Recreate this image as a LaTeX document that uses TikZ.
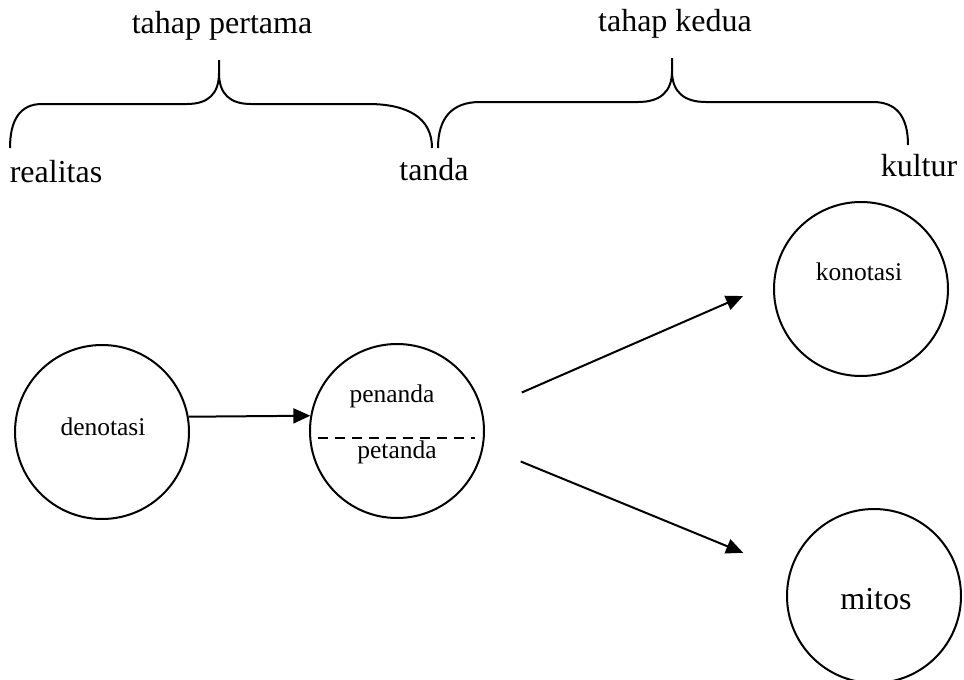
\documentclass[tikz,border=0pt]{standalone}
\usepackage{fontspec}
\setmainfont{Liberation Serif}
\usetikzlibrary{arrows.meta}
\begin{document}
\begin{tikzpicture}[x=0.5pt, y=-0.5pt, line width=1pt,
  bulat/.style={circle, draw, minimum size=87pt, inner sep=0pt},
  judul/.style={font=\fontsize{16}{18}\selectfont, anchor=base, inner sep=0pt},
  isi/.style={font=\fontsize{12.75}{15}\selectfont, anchor=base, inner sep=0pt},
  panah/.style={-{Triangle[length=8.5pt, width=7.5pt]}}]
\useasboundingbox (0,0) rectangle (964,680);
\node[judul] (thp1) at (222,33){tahap pertama};
\node[judul] (thp2) at (675,32){tahap kedua};
\node[judul] (real) at (56,182){realitas};
\node[judul] (tanda) at (434,180){tanda};
\node[judul] (kult) at (919,176){kultur};
\draw[] (10,148) .. controls (10,120) and (20,104) .. (42,104) -- (187,104)
  .. controls (208,104) and (219,94) .. (219,73) -- (219,60)
  (219,73) .. controls (219,94) and (230,104) .. (251,104) -- (368,104)
  .. controls (408,104) and (432,118) .. (432,148);
\draw[] (438,148) .. controls (438,118) and (452,102) .. (480,102) -- (638,102)
  .. controls (660,102) and (672,92) .. (672,71) -- (672,58)
  (672,71) .. controls (672,92) and (684,102) .. (706,102) -- (873,102)
  .. controls (896,102) and (908,116) .. (908,145);
\node[bulat] (den) at (102,432){};
\node[isi] (dent) at (103,435){denotasi};
\node[bulat] (pen) at (397,431){};
\node[isi] (pent) at (392,402){penanda};
\node[isi] (pett) at (397,458){petanda};
\draw[dashed, dash pattern=on 5pt off 3.5pt] (318,438) -- (475,438);
\node[bulat] (kon) at (861,289){};
\node[isi] (kont) at (859,280){konotasi};
\node[bulat] (mit) at (874,596){};
\node[judul] (mitt) at (876,609){mitos};
\draw[panah] (den.10) -- (pen.170);
\draw[panah, shorten <=21.5pt, shorten >=16.5pt] (pen.14) -- (kon.176);
\draw[panah, shorten <=20pt, shorten >=25pt] (pen.-10) -- (mit.164);
\end{tikzpicture}
\end{document}
